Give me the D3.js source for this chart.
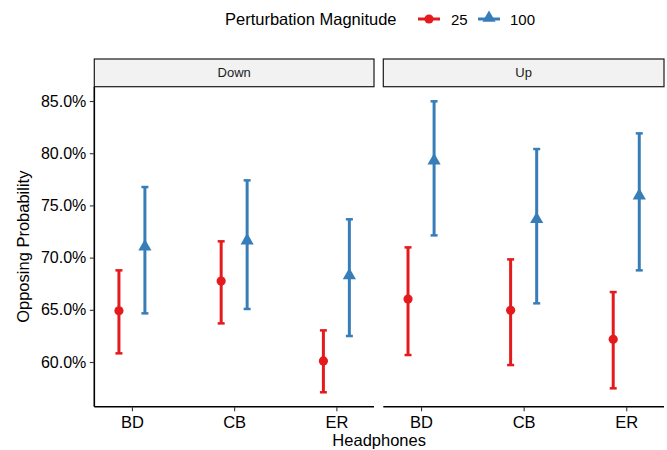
<!DOCTYPE html>
<html><head><meta charset="utf-8">
<script src="https://cdn.jsdelivr.net/npm/d3@7"></script>
<style>body{margin:0;background:#fff}svg{display:block;font-family:"Liberation Sans",Arial,sans-serif}</style>
</head><body><svg id="c" width="667" height="450"></svg>
<script>
const panels = ["Down", "Up"];
const categories = ["BD", "CB", "ER"];
const magnitudes = ["25", "100"];
// mean, lower, upper (percent) per panel, per magnitude, per category
const down25  = [[64.9, 60.83, 68.78], [67.76, 63.70, 71.56], [60.10, 57.10, 63.03]];
const down100 = [[71.05, 64.66, 76.76], [71.62, 65.08, 77.40], [68.30, 62.49, 73.67]];
const up25    = [[66.03, 60.67, 70.98], [64.95, 59.71, 69.83], [62.17, 57.48, 66.70]];
const up100   = [[79.28, 72.13, 84.97], [73.67, 65.62, 80.40], [75.93, 68.78, 81.90]];
const yTicks = [60, 65, 70, 75, 80, 85];
const colors = ["#E41A1C", "#377EB8"];

const seriesByPanel = { Down: [down25, down100], Up: [up25, up100] };

const svg = d3.select("#c");
const pTop = 86.7, pBottom = 406.7;
const panelX = [[94.3, 374], [383.3, 664]];
const stripTop = 59;

const y = d3.scaleLinear().domain([55.72, 86.37]).range([pBottom, pTop]);

// y axis (left panel only)
const yAxis = d3.axisLeft(y).tickValues(yTicks).tickFormat(d => d.toFixed(1) + "%").tickSize(4.5).tickPadding(3.5);
const gy = svg.append("g").attr("transform", `translate(${panelX[0][0]},0)`).call(yAxis);
gy.select(".domain").attr("stroke", "#000").attr("stroke-width", 1.6).attr("d", `M0,${pTop}V${pBottom}`);
gy.selectAll(".tick line").attr("stroke", "#333").attr("stroke-width", 1.1);
gy.selectAll(".tick text").attr("font-size", 16).attr("fill", "#000").attr("font-family", "Liberation Sans, Arial, sans-serif");

panels.forEach((p, pi) => {
  const [x0, x1] = panelX[pi];
  const x = d3.scalePoint().domain(categories).range([x0, x1]).padding(0.368);
  const dodge = x.step() * 0.127;

  // strip
  svg.append("rect").attr("x", x0).attr("y", stripTop).attr("width", x1 - x0).attr("height", pTop - stripTop)
    .attr("fill", "#F2F2F2").attr("stroke", "#1a1a1a").attr("stroke-width", 1.2);
  svg.append("text").attr("x", (x0 + x1) / 2).attr("y", (stripTop + pTop) / 2 + 4.5)
    .attr("text-anchor", "middle").attr("font-size", 13).attr("fill", "#1a1a1a").text(p);

  // x axis
  const gx = svg.append("g").attr("transform", `translate(0,${pBottom})`)
    .call(d3.axisBottom(x).tickSize(4.5).tickPadding(5.5));
  gx.select(".domain").attr("stroke", "#000").attr("stroke-width", 1.6).attr("d", `M${x0},0H${x1}`);
  gx.selectAll(".tick line").attr("stroke", "#333").attr("stroke-width", 1.1);
  gx.selectAll(".tick text").attr("font-size", 16.5).attr("fill", "#000").attr("font-family", "Liberation Sans, Arial, sans-serif");

  seriesByPanel[p].forEach((series, si) => {
    const off = si === 0 ? -dodge : dodge;
    const g = svg.append("g").attr("fill", colors[si]).attr("stroke", colors[si]);
    series.forEach((d, ci) => {
      const cx = x(categories[ci]) + off;
      g.append("line").attr("x1", cx).attr("x2", cx).attr("y1", y(d[1])).attr("y2", y(d[2])).attr("stroke-width", 3);
      [d[1], d[2]].forEach(v => g.append("line").attr("x1", cx - 3.5).attr("x2", cx + 3.5).attr("y1", y(v)).attr("y2", y(v)).attr("stroke-width", 2.5));
      if (si === 0) {
        g.append("circle").attr("cx", cx).attr("cy", y(d[0])).attr("r", 4.6).attr("stroke", "none");
      } else {
        g.append("path").attr("d", d3.symbol(d3.symbolTriangle, 75)()).attr("transform", `translate(${cx},${y(d[0])})`).attr("stroke", "none");
      }
    });
  });
});

// axis titles
svg.append("text").attr("x", (panelX[0][0] + panelX[1][1]) / 2).attr("y", 445.5).attr("text-anchor", "middle")
  .attr("font-size", 16.5).attr("fill", "#000").text("Headphones");
svg.append("text").attr("transform", `translate(29,${(pTop + pBottom) / 2}) rotate(-90)`).attr("text-anchor", "middle")
  .attr("font-size", 16.5).attr("fill", "#000").text("Opposing Probability");

// legend
const lg = svg.append("g");
lg.append("text").attr("x", 225).attr("y", 25).attr("font-size", 16.5).attr("fill", "#000").text("Perturbation Magnitude");
const keys = [{ x: 418, lx: 451 }, { x: 478, lx: 510 }];
magnitudes.forEach((m, i) => {
  const k = keys[i];
  lg.append("line").attr("x1", k.x).attr("x2", k.x + 22).attr("y1", 19).attr("y2", 19).attr("stroke", colors[i]).attr("stroke-width", 3);
  if (i === 0) lg.append("circle").attr("cx", k.x + 11).attr("cy", 19).attr("r", 4.6).attr("fill", colors[i]);
  else lg.append("path").attr("d", d3.symbol(d3.symbolTriangle, 75)()).attr("transform", `translate(${k.x + 11},18)`).attr("fill", colors[i]);
  lg.append("text").attr("x", k.lx).attr("y", 25).attr("font-size", 15).attr("fill", "#000").text(m);
});
</script></body></html>
